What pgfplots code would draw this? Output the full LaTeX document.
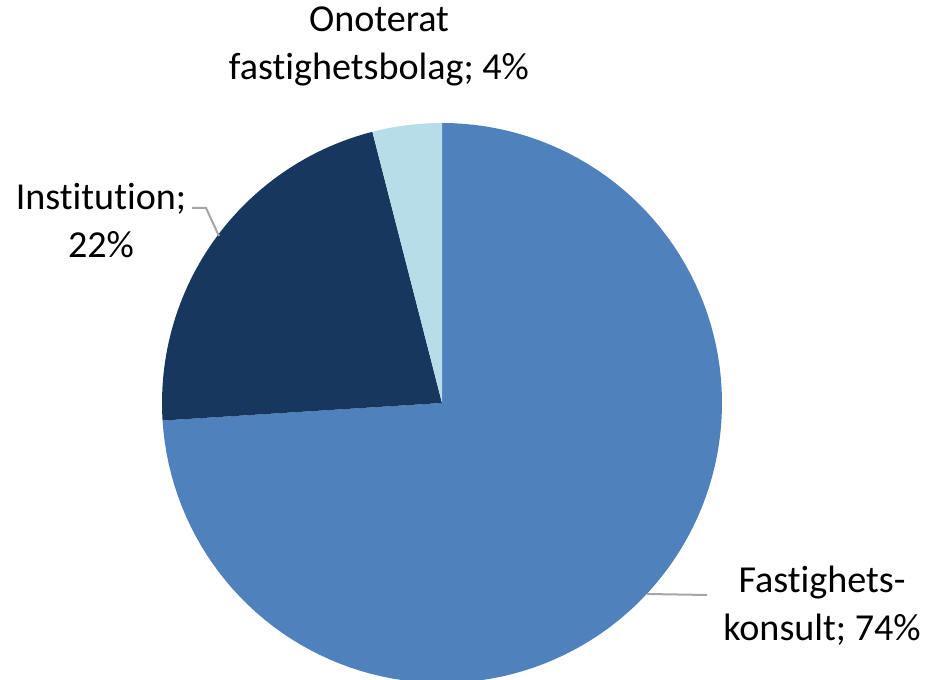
\documentclass[border=0pt]{standalone}
\usepackage{pgfplots}
\pgfplotsset{compat=1.18}
\usepackage{pgfplotstable}
\usepackage{fontspec}
\setmainfont{Carlito}[Ligatures={NoCommon}]
\definecolor{cA}{HTML}{4F81BD}
\definecolor{cB}{HTML}{17375E}
\definecolor{cC}{HTML}{B7DEE8}
\definecolor{lead}{HTML}{A6A6A6}
\pgfplotstableread{
label value
Fastighetskonsult 74
Institution 22
Onoterat 4
}\piedata
\pgfplotstablegetelem{0}{value}\of\piedata \let\vA\pgfplotsretval
\pgfplotstablegetelem{1}{value}\of\piedata \let\vB\pgfplotsretval
\pgfplotstablegetelem{2}{value}\of\piedata \let\vC\pgfplotsretval
\pgfmathsetmacro{\aZero}{90}
\pgfmathsetmacro{\aOne}{\aZero-3.6*\vA}
\pgfmathsetmacro{\aTwo}{\aOne-3.6*\vB}
\pgfmathsetmacro{\aThree}{\aTwo-3.6*\vC}
\begin{document}
\begin{tikzpicture}
\begin{axis}[
  scale only axis, width=696pt, height=510pt,
  xmin=0, xmax=928, ymin=0, ymax=680,
  hide axis, clip=true, anchor=south west, at={(0,0)},
]
\addplot[fill=cA, draw=none, domain=\aOne:\aZero, samples=120, variable=\t]
  ({442+280*cos(\t)},{277+280*sin(\t)}) -- (axis cs:442,277) -- cycle;
\addplot[fill=cB, draw=none, domain=\aTwo:\aOne, samples=60, variable=\t]
  ({442+280*cos(\t)},{277+280*sin(\t)}) -- (axis cs:442,277) -- cycle;
\addplot[fill=cC, draw=none, domain=\aThree:\aTwo, samples=20, variable=\t]
  ({442+280*cos(\t)},{277+280*sin(\t)}) -- (axis cs:442,277) -- cycle;
\draw[lead, line width=1.5pt] (axis cs:192,472) -- (axis cs:206,472) -- (axis cs:219,444);
\draw[lead, line width=1.5pt] (axis cs:647,86) -- (axis cs:707,85);
\node[align=center, font=\fontsize{28.6}{36}\selectfont] at (axis cs:379,634) {Onoterat\\fastighetsbolag; 4\%};
\node[align=center, font=\fontsize{28.6}{36}\selectfont] at (axis cs:101,459) {Institution;\\22\%};
\node[align=center, font=\fontsize{28.6}{36}\selectfont] at (axis cs:822,74) {Fastighets-\\konsult; 74\%};
\end{axis}
\pgfresetboundingbox
\path (0,0) rectangle (696pt,510pt);
\end{tikzpicture}
\end{document}
